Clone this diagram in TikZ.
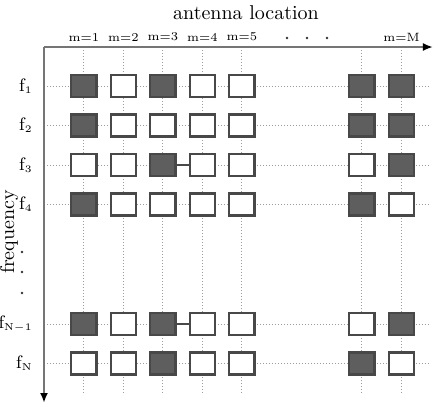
\documentclass[tikz,border=0pt]{standalone}
\usepackage{tikz}
\usetikzlibrary{arrows.meta}
\definecolor{gridGray}{HTML}{9C9C9C}
\definecolor{axisGray}{HTML}{757575}
\definecolor{cellDark}{HTML}{5E5E5E}
\definecolor{cellEdge}{HTML}{484848}
\tikzset{
  cell/.style={draw=cellEdge,line width=1.1pt,minimum width=12.6pt,
    minimum height=11pt,inner sep=0pt},
  cell1/.style={cell,fill=cellDark},
  cell0/.style={cell,fill=white},
  gridline/.style={densely dotted,gridGray,line width=.5pt},
  axis/.style={-{Latex[length=5pt,width=4pt,black]},line width=1pt,axisGray},
  mlabel/.style={font=\fontsize{6}{7}\selectfont,inner sep=1pt},
  flabel/.style={font=\small,anchor=east,inner sep=1pt},
  dotmark/.style={circle,fill=black!80,minimum size=1.3pt,inner sep=0pt},
  link/.style={line width=1pt,cellEdge}
}
\begin{document}
\begin{tikzpicture}[x=.5pt,y=-.5pt]
  \useasboundingbox (0,0) rectangle (436,404);
  % columns and rows
  \foreach \c/\x/\lab in {1/84/m=1,2/123.5/m=2,3/163/m=3,4/202.5/m=4,
      5/242/m=5,6/362/{},7/401.5/m=M}{
    \coordinate (col\c) at (\x,47);
    \draw[gridline] (\x,50) -- (\x,395);
    \node[mlabel] (m\c) at (\x,37) {\lab};
  }
  \foreach \r/\y/\lab in {1/86/1,2/125.5/2,3/165/3,4/204.5/4,
      5/324/{N-1},6/363.5/N}{
    \coordinate (row\r) at (44,\y);
    \draw[gridline] (47,\y) -- (430,\y);
    \node[flabel] (f\r) at (35,\y) {$\mathrm{f}_{\scriptscriptstyle\mathrm{\lab}}$};
  }
  % cells
  \foreach \r/\pat in {1/{1,0,1,0,0,1,1},2/{1,0,0,0,0,1,1},3/{0,0,1,0,0,0,1},
      4/{1,0,0,0,0,1,0},5/{1,0,1,0,0,0,1},6/{0,0,1,0,0,1,0}}{
    \foreach \v [count=\c] in \pat
      \node[cell\v] (b\r-\c) at (col\c |- row\r) {};
  }
  \draw[link] (b3-3) -- (b3-4);
  \draw[link] (b5-3) -- (b5-4);
  % axes
  \coordinate (origin) at (44,47);
  \coordinate (xend) at (433,47);
  \coordinate (yend) at (44,403);
  \draw[axis] (origin) -- (xend);
  \draw[axis] (origin) -- (yend);
  \node (xtitle) at (246,13) {antenna location};
  \node[rotate=90,inner sep=1pt] (ytitle) at (9,232) {frequency};
  \foreach \i/\x in {1/287,2/307,3/327}
    \node[dotmark] (hd\i) at (\x,38) {};
  \foreach \i/\y in {1/252,2/272,3/293}
    \node[dotmark] (vd\i) at (22,\y) {};
\end{tikzpicture}
\end{document}
